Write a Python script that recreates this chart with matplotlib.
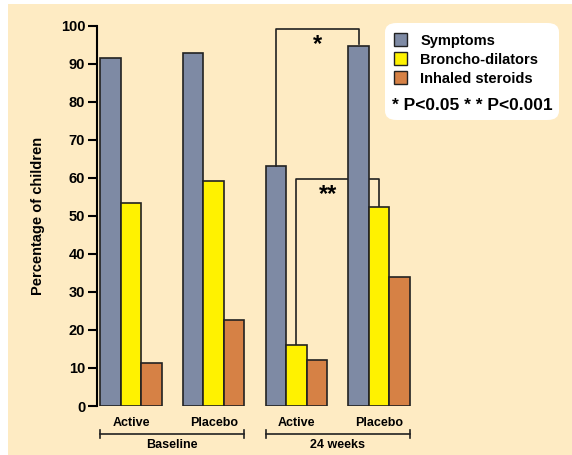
import matplotlib
matplotlib.use('Agg')
import matplotlib.pyplot as plt
import numpy as np
from matplotlib.patches import Rectangle, FancyBboxPatch, Patch

plt.rcParams['font.family'] = ['Liberation Sans', 'DejaVu Sans']
plt.rcParams['font.weight'] = 'bold'

groups = ['Active', 'Placebo', 'Active', 'Placebo']
periods = ['Baseline', '24 weeks']
series = ['Symptoms', 'Broncho-dilators', 'Inhaled steroids']
symptoms = [91.4, 92.7, 63.1, 94.6]
broncho = [53.5, 59.1, 16.1, 52.4]
steroids = [11.4, 22.6, 12.2, 33.8]
colors = ['#7E8AA4', '#FFF200', '#D68145']
bg = '#FEEBC3'

fig = plt.figure(figsize=(5.72, 4.55), dpi=100, facecolor='white')
fig.patches.append(Rectangle((8 / 572, 0), 1, 1 - 4 / 455, transform=fig.transFigure,
                             facecolor=bg, edgecolor='none', zorder=-10))

ax = fig.add_axes([97 / 572, 1 - 406 / 455, (560 - 97) / 572, (406 - 25.7) / 455])
ax.set_facecolor('none')

x = np.arange(len(groups))
w = 0.248
for i, vals in enumerate([symptoms, broncho, steroids]):
    ax.bar(x + (i - 1) * w, vals, w, color=colors[i], edgecolor='#222222', linewidth=1.2)

ax.set_xlim(-0.411, 5.187)
ax.set_ylim(0, 100)
ax.set_yticks(range(0, 101, 10))
ax.tick_params(axis='y', direction='out', length=6.5, width=1.5, labelsize=10.5, pad=2)
ax.set_xticks([])
for s in ['top', 'right', 'bottom']:
    ax.spines[s].set_visible(False)
ax.spines['left'].set_linewidth(1.5)
ax.set_ylabel('Percentage of children', fontsize=10.5, fontweight='bold', labelpad=11)

# category labels and period brackets
tr = ax.get_xaxis_transform()
for xi, g in zip(x, groups):
    ax.text(xi, -0.045, g, transform=tr, ha='center', va='center', fontsize=9, fontweight='bold')
for k, p in enumerate(periods):
    x0 = x[2 * k] - 1.5 * w
    x1 = x[2 * k + 1] + 1.5 * w
    ax.plot([x0, x1], [-0.074, -0.074], transform=tr, color='#222222', lw=1.2, clip_on=False)
    for xe in (x0, x1):
        ax.plot([xe, xe], [-0.085, -0.063], transform=tr, color='#222222', lw=1.2, clip_on=False)
    ax.text((x0 + x1) / 2, -0.103, p, transform=tr, ha='center', va='center', fontsize=9, fontweight='bold')

# significance brackets
xa, xp = x[2] - w, x[3] - w
ax.plot([xa, xa, xp, xp], [symptoms[2], 99.1, 99.1, symptoms[3] + 0.6], color='#222222', lw=1.2)
ax.text((xa + xp) / 2, 95.0, '*', ha='center', va='center', fontsize=17, fontweight='bold')
xa, xp = x[2], x[3]
ax.plot([xa, xa, xp, xp], [broncho[2], 59.7, 59.7, broncho[3]], color='#222222', lw=1.2, zorder=0.5)
ax.text(x[2] + 0.38, 55.5, '**', ha='center', va='center', fontsize=17, fontweight='bold')

# legend box
fig.patches.append(FancyBboxPatch((385 / 572, 1 - 120 / 455), (559 - 385) / 572, (120 - 23) / 455,
                                  boxstyle='round,pad=0,rounding_size=0.02', transform=fig.transFigure,
                                  facecolor='white', edgecolor='none', zorder=-5))
handles = [Patch(facecolor=c, edgecolor='#222222', label=l) for c, l in zip(colors, series)]
fig.legend(handles=handles, loc='upper left', bbox_to_anchor=(394 / 572, 1 - 33 / 455), frameon=False,
           prop={'weight': 'bold', 'size': 10.5}, handlelength=0.9, handleheight=1.0,
           handletextpad=0.9, labelspacing=0.32, borderpad=0, borderaxespad=0)
fig.text(472 / 572, 1 - 105 / 455, '* P<0.05 * * P<0.001', ha='center', va='center',
         fontsize=12.5, fontweight='bold')

fig.savefig('out.png', dpi=100, facecolor=fig.get_facecolor())
